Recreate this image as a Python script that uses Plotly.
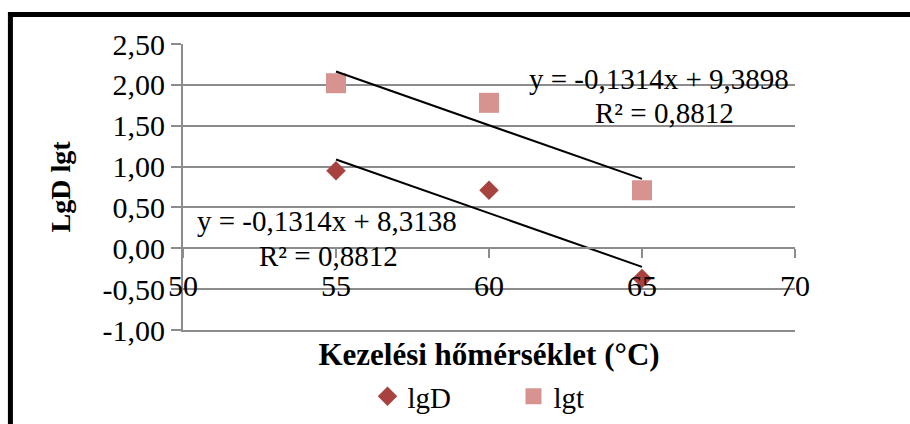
import numpy as np
import plotly.graph_objects as go

# Data
temps = [55, 60, 65]
lgD = [0.95, 0.71, -0.37]
lgt = [2.02, 1.78, 0.71]
series_names = ["lgD", "lgt"]

slope_D, intercept_D = -0.1314, 8.3138
slope_t, intercept_t = -0.1314, 9.3898
r2_D, r2_t = 0.8812, 0.8812

x_ticks = [50, 55, 60, 65, 70]
y_ticks = [-1.0, -0.5, 0.0, 0.5, 1.0, 1.5, 2.0, 2.5]
y_tick_labels = ["-1,00", "-0,50", "0,00", "0,50", "1,00", "1,50", "2,00", "2,50"]

FONT = "Liberation Serif"
GRID = "#8c8c8c"
C_D = "#A8423F"
C_T = "#D69390"

trend_x = np.array([min(temps), max(temps)])

fig = go.Figure()
fig.add_trace(go.Scatter(
    x=temps, y=lgD, mode="markers", name=series_names[0],
    marker=dict(symbol="diamond", size=15, color=C_D, line=dict(width=0)),
))
fig.add_trace(go.Scatter(
    x=temps, y=lgt, mode="markers", name=series_names[1],
    marker=dict(symbol="square", size=20, color=C_T, line=dict(width=0)),
))
fig.add_trace(go.Scatter(
    x=trend_x, y=slope_D * trend_x + intercept_D, mode="lines",
    line=dict(color="black", width=2), showlegend=False, hoverinfo="skip",
))
fig.add_trace(go.Scatter(
    x=trend_x, y=slope_t * trend_x + intercept_t, mode="lines",
    line=dict(color="black", width=2), showlegend=False, hoverinfo="skip",
))


def fmt(v):
    return f"{v:.4f}".replace(".", ",")


annots = [
    dict(x=65.55, y=2.07, text=f"y = {fmt(slope_t)}x + {fmt(intercept_t)}"),
    dict(x=65.75, y=1.66, text=f"R² = {fmt(r2_t)}"),
    dict(x=54.72, y=0.33, text=f"y = {fmt(slope_D)}x + {fmt(intercept_D)}"),
    dict(x=54.75, y=-0.10, text=f"R² = {fmt(r2_D)}"),
]
for a in annots:
    fig.add_annotation(
        x=a["x"], y=a["y"], xref="x", yref="y", text=a["text"], showarrow=False,
        xanchor="center", yanchor="middle",
        font=dict(family=FONT, size=29, color="black"),
    )

# chart frame
fig.add_shape(type="rect", xref="paper", yref="paper",
              x0=-0.282, x1=1.5, y0=-0.6, y1=1.103,
              line=dict(color="black", width=5), fillcolor="rgba(0,0,0,0)", layer="above")

tick_font = dict(family=FONT, size=30, color="black")

fig.update_layout(
    width=910, height=424,
    margin=dict(l=183, r=115, t=44, b=94, autoexpand=False),
    paper_bgcolor="white", plot_bgcolor="white",
    separators=", ",
    hovermode=False,
    showlegend=True,
    legend=dict(
        orientation="h", x=0.54, xanchor="center", y=-0.232, yanchor="middle",
        font=dict(family=FONT, size=29, color="black"),
        entrywidth=101, bgcolor="rgba(0,0,0,0)",
    ),
    xaxis=dict(
        range=[50, 70], tickvals=x_ticks, showgrid=False, zeroline=False,
        showline=True, linecolor=GRID, linewidth=2, automargin=False,
        ticks="", showticklabels=False,
        title=dict(text="<b>Kezelési hőmérséklet (°C)</b>", standoff=12,
                   font=dict(family=FONT, size=31, color="black")),
    ),
    xaxis2=dict(
        overlaying="x", matches="x", anchor="free", position=1 / 3.5,
        range=[50, 70], tickvals=x_ticks, showgrid=False, zeroline=False,
        showline=True, linecolor=GRID, linewidth=2, automargin=False,
        ticks="outside", ticklen=9, tickcolor=GRID, tickwidth=2,
        tickfont=tick_font, ticklabelstandoff=2,
    ),
    yaxis=dict(
        range=[-1.0, 2.5], tickvals=y_ticks, ticktext=y_tick_labels,
        showgrid=True, gridcolor=GRID, gridwidth=2, zeroline=False,
        showline=True, linecolor=GRID, linewidth=2, automargin=False,
        ticks="outside", ticklen=10, tickcolor=GRID, tickwidth=2,
        tickfont=tick_font,
        title=dict(text="<b>LgD lgt</b>", standoff=24,
                   font=dict(family=FONT, size=28, color="black")),
    ),
)

# invisible trace to activate xaxis2
fig.add_trace(go.Scatter(x=[50, 70], y=[None, None], xaxis="x2", yaxis="y",
                         mode="markers", showlegend=False, hoverinfo="skip"))

fig.write_html("out.html", config={"displayModeBar": False},
               post_script="document.body.style.margin='0';document.body.style.overflow='hidden';")
